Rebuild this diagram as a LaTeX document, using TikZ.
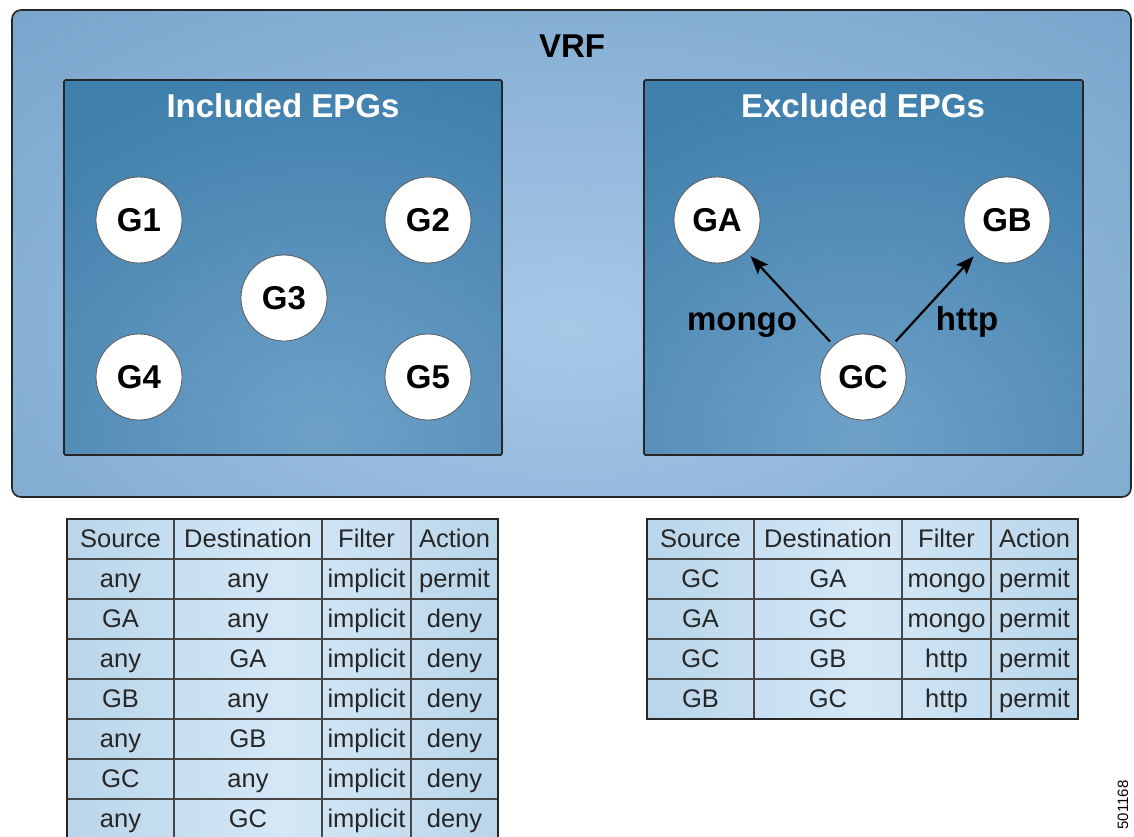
\documentclass[tikz,border=0pt]{standalone}
\usepackage{fontspec}
\setmainfont{Liberation Sans}
\usetikzlibrary{arrows.meta}
\definecolor{vrfedge}{HTML}{6898C2}
\definecolor{vrfmid}{HTML}{A8C8E8}
\definecolor{epgdark}{HTML}{4080AC}
\definecolor{epglight}{HTML}{6FA1C8}
\definecolor{celldark}{HTML}{B9D5E9}
\definecolor{celllight}{HTML}{D4E8F7}
\definecolor{framec}{HTML}{262626}
\tikzset{
  grp/.style={circle, draw=black!65, line width=0.8pt, fill=white, minimum size=86pt, inner sep=0pt, font=\bfseries\fontsize{33}{33}\selectfont},
  title/.style={font=\bfseries\fontsize{33}{33}\selectfont, anchor=base, inner sep=0pt},
  cell/.style={font=\fontsize{25.5}{25.5}\selectfont, text=black!85, anchor=base, inner sep=0pt},
  rel/.style={-{Stealth[length=18pt,width=14pt,inset=3.5pt]}, line width=2.2pt, shorten >=6pt, shorten <=5pt},
  lbl/.style={font=\bfseries\fontsize{33}{33}\selectfont, anchor=base, inner sep=0pt},
  gridline/.style={draw=framec!85, line width=1.4pt},
  boxframe/.style={draw=framec, line width=1.6pt},
}
\begin{document}
\begin{tikzpicture}[x=1pt,y=-1pt]
\useasboundingbox (0,0) rectangle (1134,837);
\fill[white] (0,0) rectangle (1134,837);

% VRF outer box
\begin{scope}
  \clip[rounded corners=9pt] (12,10) rectangle (1131,497);
  \fill[vrfedge] (12,10) rectangle (1131,497);
  \shade[inner color=vrfmid, outer color=vrfedge] (570,330) ellipse [x radius=1100, y radius=600];
\end{scope}
\draw[boxframe, rounded corners=9pt] (12,10) rectangle (1131,497);
\node[title] (vrf) at (572,58) {VRF};

% Included EPGs box
\begin{scope}
  \clip (64,80) rectangle (502,455);
  \fill[epgdark] (64,80) rectangle (502,455);
  \shade[inner color=epglight, outer color=epgdark] (320,430) ellipse [x radius=420, y radius=360];
\end{scope}
\draw[boxframe, rounded corners=1.5pt] (64,80) rectangle (502,455);
\node[title, text=white] (inc) at (283,118) {Included EPGs};

% Excluded EPGs box
\begin{scope}
  \clip (644,80) rectangle (1083,455);
  \fill[epgdark] (644,80) rectangle (1083,455);
  \shade[inner color=epglight, outer color=epgdark] (860,440) ellipse [x radius=420, y radius=360];
\end{scope}
\draw[boxframe, rounded corners=1.5pt] (644,80) rectangle (1083,455);
\node[title, text=white] (exc) at (863,118) {Excluded EPGs};

% groups
\node[grp] (G1) at (139,220) {G1};
\node[grp] (G2) at (428,220) {G2};
\node[grp] (G3) at (284,298) {G3};
\node[grp] (G4) at (139,377) {G4};
\node[grp] (G5) at (428,377) {G5};
\node[grp] (GA) at (717,220) {GA};
\node[grp] (GB) at (1007,220) {GB};
\node[grp] (GC) at (863,377) {GC};

\draw[rel] (GC) -- (GA);
\draw[rel] (GC) -- (GB);
\node[lbl] (mongo) at (742,330) {mongo};
\node[lbl] (http) at (967,330) {http};

% left table
\shade[left color=celldark, right color=celldark, middle color=celllight] (67,519) rectangle (498,840);
\foreach \yy in {559,599,639,679,719,759,799} \draw[gridline] (67,\yy) -- (498,\yy);
\foreach \xx in {174,322,411} \draw[gridline] (\xx,519) -- (\xx,840);
\draw[boxframe] (67,840) -- (67,519) -- (498,519) -- (498,840);
\foreach [count=\r from 0] \a/\b/\c/\d in {Source/Destination/Filter/Action, any/any/implicit/permit, GA/any/implicit/deny, any/GA/implicit/deny, GB/any/implicit/deny, any/GB/implicit/deny, GC/any/implicit/deny, any/GC/implicit/deny}{
  \node[cell] (La\r) at (120.5,547.5+40*\r) {\a};
  \node[cell] (Lb\r) at (248,547.5+40*\r) {\b};
  \node[cell] (Lc\r) at (366.5,547.5+40*\r) {\c};
  \node[cell] (Ld\r) at (454.5,547.5+40*\r) {\d};
}

% right table
\shade[left color=celldark, right color=celldark, middle color=celllight] (647,519) rectangle (1078,719);
\foreach \yy in {559,599,639,679} \draw[gridline] (647,\yy) -- (1078,\yy);
\foreach \xx in {754,902,991} \draw[gridline] (\xx,519) -- (\xx,719);
\draw[boxframe] (647,519) rectangle (1078,719);
\foreach [count=\r from 0] \a/\b/\c/\d in {Source/Destination/Filter/Action, GC/GA/mongo/permit, GA/GC/mongo/permit, GC/GB/http/permit, GB/GC/http/permit}{
  \node[cell] (Ra\r) at (700.5,547.5+40*\r) {\a};
  \node[cell] (Rb\r) at (828,547.5+40*\r) {\b};
  \node[cell] (Rc\r) at (946.5,547.5+40*\r) {\c};
  \node[cell] (Rd\r) at (1034.5,547.5+40*\r) {\d};
}

\node[rotate=90, font=\fontsize{15}{15}\selectfont, inner sep=0pt] (fig) at (1123,805) {501168};
\end{tikzpicture}
\end{document}
